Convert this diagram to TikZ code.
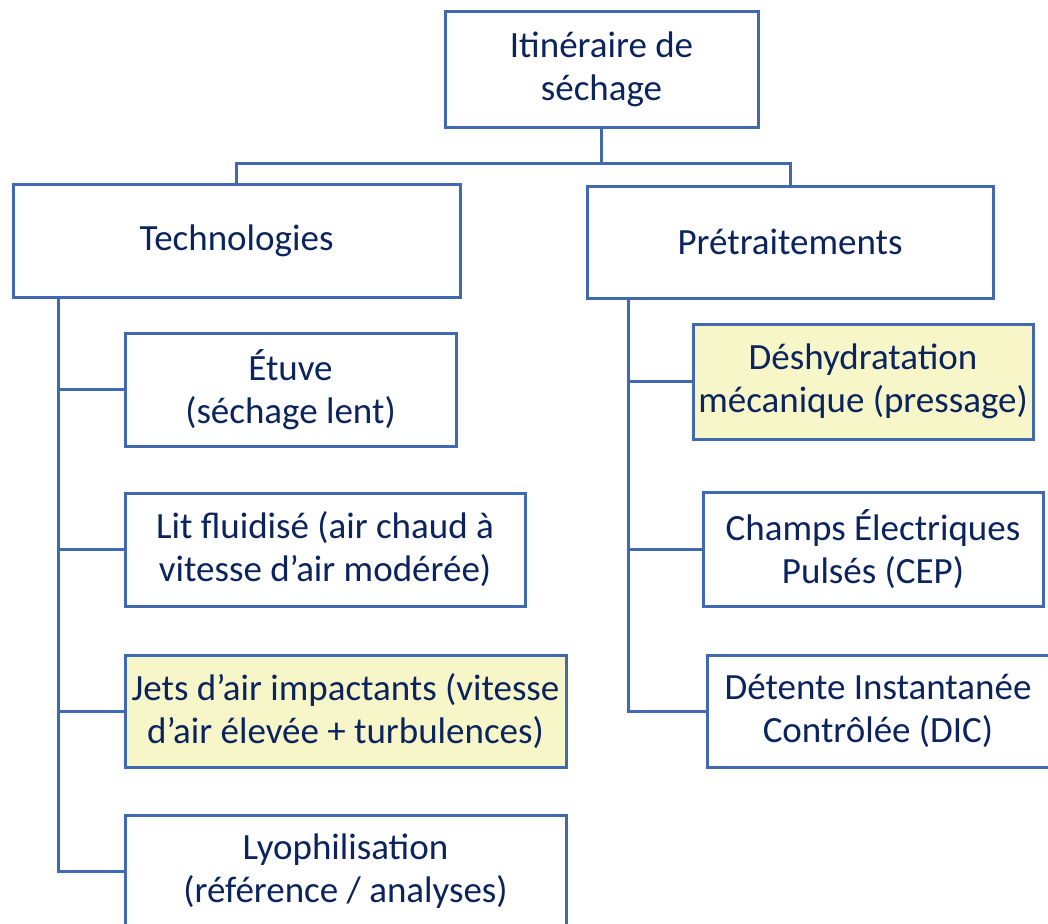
\documentclass[tikz,border=0pt]{standalone}
\usepackage{fontspec}
\setmainfont{Carlito}
\usepackage{xcolor}
\definecolor{boxblue}{HTML}{4169B0}
\definecolor{textnavy}{HTML}{0B245E}
\definecolor{boxyellow}{HTML}{F7F6C8}
\tikzset{
  box/.style={draw=boxblue, line width=3pt, fill=white, align=center,
    text=textnavy, inner sep=0pt, font=\fontsize{37}{43}\selectfont},
  hilite/.style={box, fill=boxyellow},
  link/.style={draw=boxblue, line width=3pt},
}
\begin{document}
\begin{tikzpicture}[x=1pt, y=-1pt]
  \useasboundingbox (0,0) rectangle (1048,923);
  \clip (0,0) rectangle (1048,923);
  % top level
  \node[box, minimum width=313pt, minimum height=115pt] (root) at (601.5,69.5) {Itinéraire de\\séchage};
  \node[box, minimum width=447pt, minimum height=113pt] (tech) at (236.5,240.5) {Technologies};
  \node[box, minimum width=406pt, minimum height=112pt] (pre) at (790,242) {Prétraitements};
  % technologies
  \node[box, minimum width=331pt, minimum height=113pt] (etuve) at (290.5,389.5) {Étuve\\(séchage lent)};
  \node[box, minimum width=400pt, minimum height=113pt] (lit) at (325,549.5) {Lit fluidisé (air chaud à\\vitesse d’air modérée)};
  \node[hilite, minimum width=441pt, minimum height=112pt] (jets) at (345.5,711) {Jets d’air impactants (vitesse\\d’air élevée + turbulences)};
  \node[box, minimum width=441pt, minimum height=112pt] (lyo) at (345.5,871) {Lyophilisation\\(référence / analyses)};
  % pretraitements
  \node[hilite, minimum width=340pt, minimum height=115pt] (desh) at (863,381.5) {Déshydratation\\mécanique (pressage)};
  \node[box, minimum width=340pt, minimum height=114pt] (cep) at (873,549) {Champs Électriques\\Pulsés (CEP)};
  \node[box, minimum width=342pt, minimum height=112pt] (dic) at (878,711) {Détente Instantanée\\Contrôlée (DIC)};

  % connectors
  \draw[link] (root.south) -- ++(0,35) -| (tech.north);
  \draw[link] (root.south) -- ++(0,35) -| (pre.north);
  \coordinate (trunkL) at (58,297);
  \coordinate (trunkR) at (628,298);
  \draw[link] (trunkL) |- (lyo.west);
  \foreach \n in {etuve,lit,jets}
    \draw[link] (trunkL |- \n.west) -- (\n.west);
  \draw[link] (trunkR) |- (dic.west);
  \foreach \n in {desh,cep}
    \draw[link] (trunkR |- \n.west) -- (\n.west);
\end{tikzpicture}
\end{document}
